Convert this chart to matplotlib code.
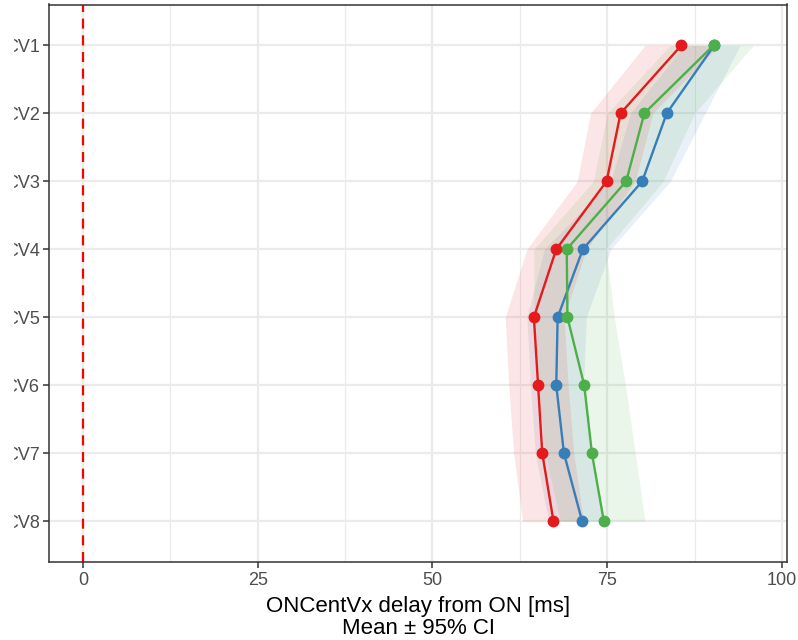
import numpy as np
import matplotlib
matplotlib.use("Agg")
import matplotlib.pyplot as plt
from matplotlib.transforms import Bbox

plt.rcParams['font.family'] = ['Liberation Sans', 'DejaVu Sans']

# Visit labels (top to bottom)
visits = ["CV1", "CV2", "CV3", "CV4", "CV5", "CV6", "CV7", "CV8"]

# Group means and 95% CI bounds of the delay [ms]
blue_mean = [90.3, 83.5, 80.0, 71.5, 67.9, 67.7, 68.8, 71.4]
blue_lo = [86.0, 78.3, 75.5, 66.0, 63.5, 64.0, 64.7, 66.6]
blue_hi = [94.0, 89.0, 84.0, 75.5, 72.0, 71.6, 72.6, 74.7]

green_mean = [90.2, 80.3, 77.7, 69.2, 69.3, 71.7, 72.8, 74.5]
green_lo = [84.0, 75.0, 73.0, 64.5, 64.5, 65.0, 66.1, 68.3]
green_hi = [95.9, 87.5, 83.0, 74.8, 76.0, 77.6, 79.0, 80.4]

red_mean = [85.6, 76.9, 74.9, 67.7, 64.5, 65.1, 65.7, 67.3]
red_lo = [80.4, 72.6, 70.7, 63.5, 60.4, 60.9, 61.6, 62.9]
red_hi = [91.0, 81.5, 79.0, 72.0, 68.8, 69.4, 70.2, 71.6]

x_ticks = [0, 25, 50, 75, 100]

series = [
    (blue_mean, blue_lo, blue_hi, "#377EB8"),
    (green_mean, green_lo, green_hi, "#4DAF4A"),
    (red_mean, red_lo, red_hi, "#E41A1C"),
]

W, H = 798, 640
fig = plt.figure(figsize=(W / 100, H / 100), dpi=100)
ax = fig.add_axes([49.3 / W, 1 - 562 / H, (787 - 49.3) / W, (562 - 4.5) / H])

pos = np.arange(1, len(visits) + 1)

# grid (theme_bw style)
for v in [12.5, 37.5, 62.5, 87.5]:
    ax.axvline(v, color="#EBEBEB", lw=0.9, zorder=0)
for v in x_ticks:
    ax.axvline(v, color="#EBEBEB", lw=1.6, zorder=0)
for p in pos:
    ax.axhline(p, color="#EBEBEB", lw=1.6, zorder=0)

ax.axvline(0, color="red", lw=1.6, ls=(0, (4.5, 3)), zorder=1)

for m, lo, hi, c in series:
    ax.fill_betweenx(pos, lo, hi, color=c, alpha=0.11, lw=0, zorder=2)
for m, lo, hi, c in series:
    ax.plot(m, pos, color=c, lw=1.7, marker="o", ms=7.5, zorder=3)

ax.set_xlim(-4.8, 100.7)
ax.set_ylim(8.6, 0.4)
ax.set_xticks(x_ticks)
ax.set_yticks(pos)
ax.set_yticklabels(visits)

for s in ax.spines.values():
    s.set_color("#333333")
    s.set_linewidth(1.1)
ax.tick_params(axis="both", colors="#333333", length=4, width=1.1,
               labelsize=13, labelcolor="#4D4D4D", pad=3)

ax.set_xlabel("ONCentVx delay from ON [ms]\nMean \u00b1 95% CI", fontsize=16,
              color="black", labelpad=5, linespacing=1.08)

fig.canvas.draw()
clip = Bbox.from_extents(14, 0, W, H)
for lbl in ax.get_yticklabels():
    lbl.set_clip_box(clip)
    lbl.set_clip_on(True)

fig.savefig("out.png", dpi=100)
